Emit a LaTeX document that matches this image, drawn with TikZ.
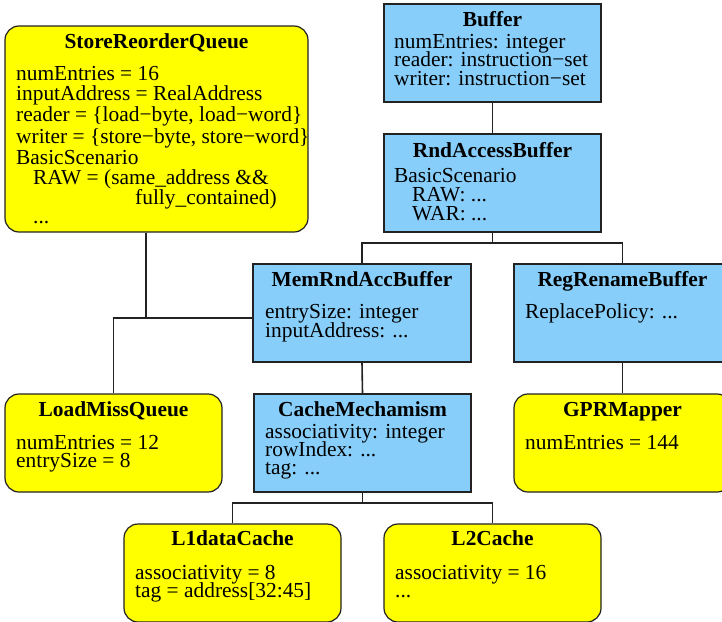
\documentclass[tikz,border=0pt]{standalone}
\usepackage{fontspec}
\setmainfont{Liberation Serif}
\definecolor{boxyellow}{HTML}{FFFF00}
\definecolor{boxblue}{HTML}{87CEFA}
\definecolor{inkline}{HTML}{222222}
\newcommand\attrline[4]{\node[txt] (#1) at (#2,#3) {#4};}
\newcommand\titleline[4]{\node[ttl] (#1) at (#2,#3) {#4};}
\begin{document}
\begin{tikzpicture}[x=1pt,y=-1pt,
  cls/.style={draw=inkline, line width=1.2pt, fill=boxblue, rectangle, inner sep=0pt,
              minimum width=217pt, minimum height=98pt},
  obj/.style={cls, fill=boxyellow, rounded corners=14pt},
  ttl/.style={font=\fontsize{21.4}{21.4}\selectfont\bfseries, anchor=base, inner sep=0pt},
  txt/.style={font=\fontsize{21.4}{21.4}\selectfont, anchor=base west, inner sep=0pt},
  edge/.style={line width=1.6pt, draw=inkline}]
\clip (0,0) rectangle (722,621);
% boxes
\node[obj, minimum width=303pt, minimum height=206pt] (srq) at (156.5,129) {};
\node[cls] (buf) at (492.5,53) {};
\node[cls] (rab) at (492.5,183) {};
\node[cls, minimum width=218pt] (mrab) at (362,313) {};
\node[cls] (rrb) at (622.5,313) {};
\node[obj] (lmq) at (113.5,443) {};
\node[cls] (cm) at (362.5,443) {};
\node[obj] (gpr) at (622.5,443) {};
\node[obj] (l1) at (232.5,573) {};
\node[obj] (l2) at (492.5,573) {};
% connectors
\draw[edge] (buf.south) -- (rab.north);
\coordinate (rabj) at (492.5,243);
\draw[edge] (rab.south) -- (rabj);
\draw[edge] (mrab.north) -- (mrab.north |- rabj) -- (rrb.north |- rabj) -- (rrb.north);
\coordinate (srqj) at (146,318);
\coordinate (lmqj) at (113.5,318);
\draw[edge] (srq.south -| srqj) -- (srqj);
\draw[edge] (mrab.west |- lmqj) -- (lmqj) -- (lmq.north);
\draw[edge] (mrab.south) -- (cm.north);
\draw[edge] (rrb.south) -- (gpr.north);
\coordinate (cmj) at (362.5,503);
\draw[edge] (cm.south) -- (cmj);
\draw[edge] (l1.north) -- (l1.north |- cmj) -- (l2.north |- cmj) -- (l2.north);
% titles
\titleline{srqt}{156.5}{48}{StoreReorderQueue}
\titleline{buft}{492.5}{27}{Buffer}
\titleline{rabt}{492.5}{157}{RndAccessBuffer}
\titleline{mrabt}{362}{286}{MemRndAccBuffer}
\titleline{rrbt}{622.5}{286}{RegRenameBuffer}
\titleline{lmqt}{113.5}{416}{LoadMissQueue}
\titleline{cmt}{362.5}{416}{CacheMechamism}
\titleline{gprt}{622.5}{416}{GPRMapper}
\titleline{l1t}{232.5}{545}{L1dataCache}
\titleline{l2t}{492.5}{545}{L2Cache}
% attributes
\attrline{srq1}{16}{80}{numEntries = 16}
\attrline{srq2}{16}{100.7}{inputAddress = RealAddress}
\attrline{srq3}{16}{121.7}{reader = \{load−byte, load−word\}}
\attrline{srq4}{16}{143}{writer = \{store−byte, store−word\}}
\attrline{srq5}{16}{164}{BasicScenario}
\attrline{srq6}{33}{184}{RAW = (same\_address \&\&}
\attrline{srq7}{135}{204}{fully\_contained)}
\attrline{srq8}{33}{223}{...}
\attrline{buf1}{394}{48.3}{numEntries: integer}
\attrline{buf2}{394}{66.8}{reader: instruction−set}
\attrline{buf3}{394}{85.5}{writer: instruction−set}
\attrline{rab1}{394}{182}{BasicScenario}
\attrline{rab2}{412}{201.7}{RAW: ...}
\attrline{rab3}{412}{220}{WAR: ...}
\attrline{mrab1}{265}{318.5}{entrySize: integer}
\attrline{mrab2}{265}{337}{inputAddress: ...}
\attrline{rrb1}{525}{318.5}{ReplacePolicy: ...}
\attrline{lmq1}{16}{449}{numEntries = 12}
\attrline{lmq2}{16}{467}{entrySize = 8}
\attrline{cm1}{265}{438}{associativity: integer}
\attrline{cm2}{265}{456}{rowIndex: ...}
\attrline{cm3}{265}{474.5}{tag: ...}
\attrline{gpr1}{525}{449}{numEntries = 144}
\attrline{l11}{135}{579}{associativity = 8}
\attrline{l12}{135}{597}{tag = address[32:45]}
\attrline{l21}{395}{579}{associativity = 16}
\attrline{l22}{395}{597}{...}
\end{tikzpicture}
\end{document}
